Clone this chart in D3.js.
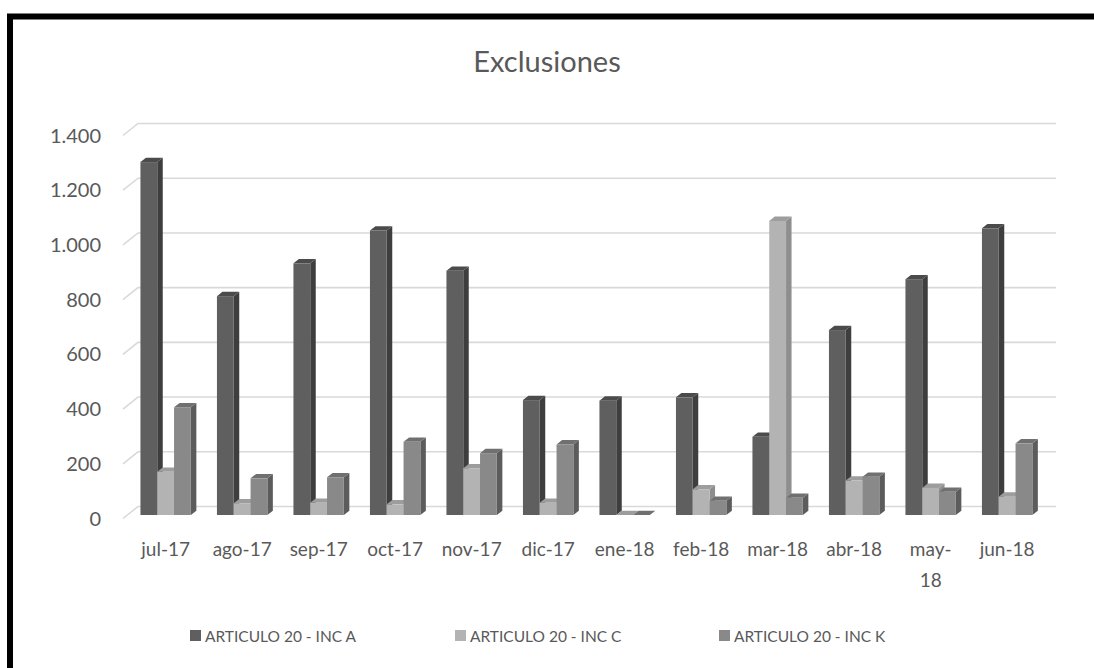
<!DOCTYPE html>
<html>
<head>
<meta charset="utf-8">
<script src="https://cdn.jsdelivr.net/npm/d3@7"></script>
<style>
  html, body { margin: 0; padding: 0; background: #fff; }
  svg { display: block; }
  text { font-family: Lato, "Open Sans", sans-serif; fill: #595959; }
</style>
</head>
<body>
<svg id="chart" width="1094" height="668"></svg>
<script>
// Monthly exclusions by article / clause
const categories = ["jul-17","ago-17","sep-17","oct-17","nov-17","dic-17","ene-18","feb-18","mar-18","abr-18","may-18","jun-18"];
const serieA = [1290, 800, 920, 1040, 893, 420, 418, 430, 286, 676, 862, 1048];
const serieC = [158, 43, 45, 39, 171, 45, 0, 94, 1075, 126, 99, 67];
const serieK = [394, 134, 138, 268, 226, 258, 0, 52, 63, 140, 85, 262];
const seriesNames = ["ARTICULO 20 - INC A", "ARTICULO 20 - INC C", "ARTICULO 20 - INC K"];
const yTicks = [0, 200, 400, 600, 800, 1000, 1200, 1400];

const svg = d3.select("#chart");
const W = 1094;

// 3D look: back wall offset and bar depth
const wall = {dx: 15, dy: -12};
const barShift = {dx: 4.4, dy: -3.5};
const depth = {dx: 5.5, dy: -4.3};

const palette = [
  {front: "#5f5f5f", side: "#3e3e3e", top: "#4b4b4b"},
  {front: "#b3b3b3", side: "#8e8e8e", top: "#9d9d9d"},
  {front: "#898989", side: "#5c5c5c", top: "#707070"}
];

const x = d3.scaleBand().domain(categories).range([123, 1041]).paddingInner(0).paddingOuter(0);
const y = d3.scaleLinear().domain([0, 1400]).range([518.5, 135.5]);
const fmt = v => d3.format(",")(v).replace(/,/g, ".");

// outer frame
svg.append("rect")
  .attr("x", 10).attr("y", 16.5)
  .attr("width", 1200).attr("height", 800)
  .attr("fill", "none").attr("stroke", "#000").attr("stroke-width", 6);

// title
svg.append("text")
  .attr("x", W / 2).attr("y", 72)
  .attr("text-anchor", "middle")
  .style("font-size", "29px")
  .text("Exclusiones");

// gridlines: side wall diagonal + back wall horizontal
const grid = svg.append("g").attr("stroke", "#d9d9d9").attr("stroke-width", 1.6).attr("fill", "none");
yTicks.forEach(v => {
  const yy = y(v);
  grid.append("path")
    .attr("d", `M${x.range()[0]},${yy} L${x.range()[0] + wall.dx},${yy + wall.dy} L${x.range()[1] + wall.dx},${yy + wall.dy}`);
});

// y axis labels
svg.append("g").selectAll("text").data(yTicks).join("text")
  .attr("x", 101).attr("y", d => y(d))
  .attr("dy", "0.35em")
  .attr("text-anchor", "end")
  .style("font-size", "20px")
  .text(fmt);

// bars
const allSeries = [serieA, serieC, serieK];
const barW = 16.8;
const bars = svg.append("g");
categories.forEach((cat, i) => {
  const cx = x(cat) + x.bandwidth() / 2 + barShift.dx;
  const x0 = cx - barW * 1.5;
  allSeries.forEach((vals, s) => {
    const v = vals[i];
    const left = x0 + s * barW;
    const right = left + barW;
    const bottom = y(0) + barShift.dy;
    const top = y(v) + barShift.dy;
    const c = palette[s];
    const g = bars.append("g");
    // side face
    g.append("path")
      .attr("d", `M${right},${bottom} L${right + depth.dx},${bottom + depth.dy} L${right + depth.dx},${top + depth.dy} L${right},${top} Z`)
      .attr("fill", c.side);
    // top face
    g.append("path")
      .attr("d", `M${left},${top} L${left + depth.dx},${top + depth.dy} L${right + depth.dx},${top + depth.dy} L${right},${top} Z`)
      .attr("fill", c.top);
    // front face
    g.append("rect")
      .attr("x", left).attr("y", top)
      .attr("width", barW).attr("height", Math.max(0, bottom - top))
      .attr("fill", c.front);
  });
});

// x axis labels (long labels wrap like "may-" / "18")
const xl = svg.append("g");
categories.forEach(cat => {
  const cx = x(cat) + x.bandwidth() / 2 + barShift.dx;
  const t = xl.append("text")
    .attr("x", cx).attr("y", 556)
    .attr("text-anchor", "middle")
    .style("font-size", "19px");
  if (cat.startsWith("may")) {
    const parts = cat.split("-");
    t.append("tspan").attr("x", cx).attr("dy", 0).text(parts[0] + "-");
    t.append("tspan").attr("x", cx).attr("dy", 31).text(parts[1]);
  } else {
    t.text(cat);
  }
});

// legend
const legendX = [190, 455, 719];
const lg = svg.append("g");
seriesNames.forEach((name, s) => {
  lg.append("rect")
    .attr("x", legendX[s]).attr("y", 630)
    .attr("width", 11).attr("height", 11)
    .attr("fill", palette[s].front);
  lg.append("text")
    .attr("x", legendX[s] + 15).attr("y", 641.5)
    .style("font-size", "15.5px")
    .text(name);
});
</script>
</body>
</html>
